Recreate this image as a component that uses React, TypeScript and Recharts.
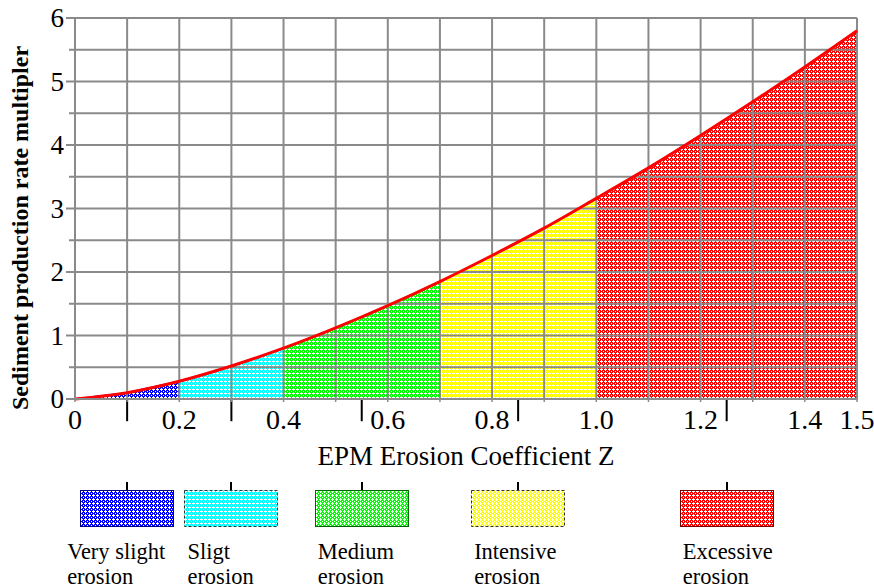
import { Area, ComposedChart, Label, Line, ReferenceLine, XAxis, YAxis } from 'recharts';

// EPM erosion coefficient Z and the read-off sediment production multiplier
const zValues = [0, 0.1, 0.2, 0.3, 0.4, 0.5, 0.6, 0.7, 0.8, 0.9, 1.0, 1.1, 1.2, 1.3, 1.4, 1.5];
const multiplier = [0, 0.1, 0.28, 0.52, 0.8, 1.12, 1.47, 1.85, 2.26, 2.69, 3.16, 3.64, 4.15, 4.68, 5.23, 5.8];

// erosion classes
const classKeys = ['verySlight', 'slight', 'medium', 'intensive', 'excessive'];
const classNames = ['Very slight', 'Sligt', 'Medium', 'Intensive', 'Excessive'];
const classFrom = [0, 0.2, 0.4, 0.7, 1.0];
const classTo = [0.2, 0.4, 0.7, 1.0, 1.5];
const classMarks = [0.1, 0.3, 0.55, 0.85, 1.25];
const classColors = ['#0000ff', '#00ffff', '#00ff00', '#ffff00', '#ff0000'];
const classBorders = ['#00008b', '#333333', '#006400', '#333333', '#7a0000'];
const classDashed = [false, true, false, true, false];

const xTicks = zValues;
const xLabelled = [0, 0.2, 0.4, 0.6, 0.8, 1.0, 1.2, 1.4, 1.5];
const yTicks = [0, 0.5, 1, 1.5, 2, 2.5, 3, 3.5, 4, 4.5, 5, 5.5, 6];

const FONT = '"Liberation Serif", "Times New Roman", serif';
const GRID = '#8a8a8a';

const near = (a: number, b: number) => Math.abs(a - b) < 1e-6;

const data = zValues.map((z, i) => {
  const row: Record<string, number | null> = { z, m: multiplier[i] };
  classKeys.forEach((k, c) => {
    row[k] = z >= classFrom[c] - 1e-6 && z <= classTo[c] + 1e-6 ? multiplier[i] : null;
  });
  return row;
});

const PLOT_LEFT = 75;
const PLOT_W = 782;
const zToPx = (z: number) => PLOT_LEFT + (z / 1.5) * PLOT_W;

const textStyle = { fontFamily: FONT, fill: '#000' };

function YTick(props: any) {
  const { x, y, payload } = props;
  const v = payload.value as number;
  const major = Number.isInteger(v);
  return (
    <g>
      <line x1={x - (major ? 9 : 6)} x2={x} y1={y} y2={y} stroke={GRID} strokeWidth={2} />
      {major && (
        <text x={x - 11} y={y} dy={9} textAnchor="end" style={{ ...textStyle, fontSize: 27 }}>
          {v}
        </text>
      )}
    </g>
  );
}

function XTick(props: any) {
  const { x, y, payload } = props;
  const v = payload.value as number;
  if (!xLabelled.some((t) => near(t, v))) return <g />;
  const label = v === 0 ? '0' : v.toFixed(1);
  return (
    <text x={x} y={y} dy={25} textAnchor="middle" style={{ ...textStyle, fontSize: 28 }}>
      {label}
    </text>
  );
}

function Hatch({ id, color }: { id: string; color: string }) {
  return (
    <pattern id={id} width={4} height={4} patternUnits="userSpaceOnUse">
      <rect width={4} height={4} fill={color} />
      <rect x={1} y={0} width={1} height={3} fill="#fff" />
      <rect x={0} y={1} width={3} height={1} fill="#fff" />
      <rect x={3} y={3} width={1} height={1} fill="#fff" />
    </pattern>
  );
}

export default function App() {
  return (
    <div style={{ position: 'absolute', left: 0, top: 0, width: 874, height: 588, background: '#fff' }}>
      <ComposedChart width={874} height={588} data={data} margin={{ top: 18, right: 17, bottom: 119, left: 0 }}>
        <defs>
          {classKeys.map((k, c) => (
            <Hatch key={k} id={`hatch-${k}`} color={classColors[c]} />
          ))}
        </defs>
        <XAxis
          dataKey="z"
          type="number"
          domain={[0, 1.5]}
          ticks={xTicks}
          interval={0}
          height={70}
          axisLine={{ stroke: GRID, strokeWidth: 2 }}
          tickLine={{ stroke: GRID, strokeWidth: 1.5 }}
          tickSize={3}
          tickMargin={2}
          tick={XTick}
        >
          <Label
            content={() => (
              <text x={466} y={465} textAnchor="middle" style={{ ...textStyle, fontSize: 27 }}>
                EPM Erosion Coefficient Z
              </text>
            )}
          />
        </XAxis>
        <YAxis
          type="number"
          domain={[0, 6]}
          ticks={yTicks}
          interval={0}
          width={75}
          axisLine={{ stroke: GRID, strokeWidth: 2 }}
          tickLine={false}
          tickSize={0}
          tickMargin={0}
          tick={YTick}
        >
          <Label
            content={() => (
              <text
                x={22}
                y={228}
                transform="rotate(-90 22 228)"
                textAnchor="middle"
                dominantBaseline="middle"
                style={{ ...textStyle, fontSize: 24, fontWeight: 'bold' }}
              >
                Sediment production rate multipler
              </text>
            )}
          />
        </YAxis>
        {classKeys.map((k, c) => (
          <Area
            key={k}
            dataKey={k}
            type="linear"
            fill={`url(#hatch-${k})`}
            fillOpacity={1}
            stroke={classColors[c]}
            strokeWidth={1.5}
            connectNulls={false}
            isAnimationActive={false}
            dot={false}
            activeDot={false}
          />
        ))}
        {xTicks.map((t) => (
          <ReferenceLine key={`gx-${t}`} x={t} stroke={GRID} strokeWidth={2} />
        ))}
        {yTicks.map((t) => (
          <ReferenceLine key={`gy-${t}`} y={t} stroke={GRID} strokeWidth={2} />
        ))}
        {classMarks.map((m) => (
          <ReferenceLine
            key={`mk-${m}`}
            segment={[
              { x: m, y: 0 },
              { x: m, y: -0.35 },
            ]}
            ifOverflow="visible"
            stroke="#000"
            strokeWidth={2}
          />
        ))}
        <Line
          dataKey="m"
          type="monotone"
          stroke="#ff0000"
          strokeWidth={3}
          dot={false}
          activeDot={false}
          isAnimationActive={false}
        />
      </ComposedChart>
      {classKeys.map((k, c) => {
        const left = zToPx(classMarks[c]) - 47;
        return (
          <div key={k}>
            <div
              style={{
                position: 'absolute',
                left: zToPx(classMarks[c]) - 1,
                top: 482,
                width: 2,
                height: 9,
                background: '#000',
              }}
            />
            <svg style={{ position: 'absolute', left, top: 490 }} width={94} height={37}>
              <rect
                x={0.5}
                y={0.5}
                width={93}
                height={36}
                fill={`url(#hatch-${k})`}
                stroke={classBorders[c]}
                strokeDasharray={classDashed[c] ? '3 2' : undefined}
              />
            </svg>
            <div
              style={{
                position: 'absolute',
                left: left + (c === 0 ? -13 : 3),
                top: 539,
                fontFamily: FONT,
                fontSize: 22.5,
                lineHeight: '25px',
                color: '#000',
                whiteSpace: 'nowrap',
              }}
            >
              {classNames[c]}
              <br />
              erosion
            </div>
          </div>
        );
      })}
    </div>
  );
}
